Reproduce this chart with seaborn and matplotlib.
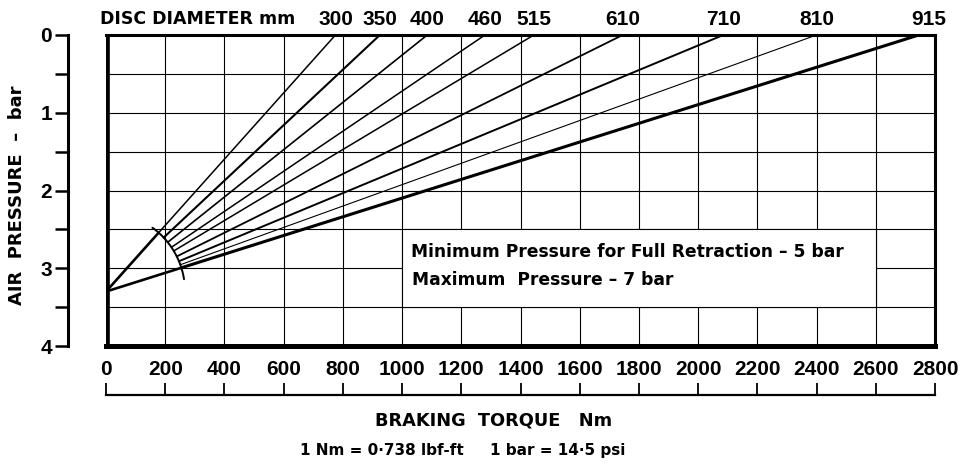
import numpy as np
import pandas as pd
import matplotlib.pyplot as plt
import seaborn as sns
from matplotlib.patches import Rectangle

# disc diameters (mm) and the braking torque where each line reaches 0 bar
disc_diameter = [300, 350, 400, 460, 515, 610, 710, 810, 915]
torque_at_zero = [775, 925, 1085, 1280, 1445, 1745, 2085, 2400, 2745]
line_width = [1.1, 1.5, 1.2, 1.1, 1.1, 1.3, 1.4, 0.8, 2.2]

# all lines converge on the pressure axis here (bar)
threshold_pressure = 3.3

x_ticks = [0, 200, 400, 600, 800, 1000, 1200, 1400, 1600, 1800, 2000, 2200, 2400, 2600, 2800]
y_ticks = [0, 0.5, 1, 1.5, 2, 2.5, 3, 3.5, 4]
y_labels = ["0", "", "1", "", "2", "", "3", "", "4"]

note_torque = [1000, 2600]
note_pressure = [2.5, 3.5]
notes = ["Minimum Pressure for Full Retraction \u2013 5 bar",
         "Maximum  Pressure \u2013 7 bar"]

sns.set_style("ticks", {"axes.edgecolor": "black", "xtick.color": "black",
                        "ytick.color": "black", "text.color": "black"})
plt.rcParams["font.family"] = ["DejaVu Sans"]
plt.rcParams["font.weight"] = "bold"

fig = plt.figure(figsize=(9.62, 4.66), dpi=100)
ax = fig.add_axes([106 / 962, 1 - 346 / 466, (935 - 106) / 962, (346 - 35) / 466])
ax.set_xlim(0, 2800)
ax.set_ylim(4, 0)
ax.set_xticks(x_ticks)
ax.set_yticks(y_ticks, labels=y_labels)
ax.set_axisbelow(True)
ax.grid(True, color="black", lw=0.8)

# frame
ax.spines["top"].set_linewidth(2.2)
ax.spines["right"].set_linewidth(2.2)
ax.spines["bottom"].set_linewidth(3.6)
ax.axvline(0, color="black", lw=5.5, zorder=3)
ax.spines["left"].set_position(("outward", 27.4))
ax.spines["left"].set_linewidth(2.2)

ax.tick_params(axis="x", length=0, pad=10, labelsize=15)
ax.tick_params(axis="y", length=9.4, width=1.8, direction="out", pad=2, labelsize=15, left=True)
for t in ax.get_xticklabels() + ax.get_yticklabels():
    t.set_fontfamily("Liberation Sans")
    t.set_fontweight("bold")

# ruler under the tick labels
sec = ax.secondary_xaxis(-(395 - 346) / 311)
sec.set_xticks(x_ticks)
sec.tick_params(axis="x", direction="in", length=9, width=1.3, labelbottom=False, bottom=True)
sec.spines["bottom"].set_linewidth(1.6)

# fan of lines: they start on an arc around the convergence point
p0 = ax.transData.transform((0, threshold_pressure))
radius = 79
rows = []
for d, t in zip(disc_diameter, torque_at_zero):
    pt = ax.transData.transform((t, 0))
    u = (pt - p0) / np.hypot(*(pt - p0))
    start = ax.transData.inverted().transform(p0 + radius * u)
    rows.append({"diameter": d, "torque": start[0], "pressure": start[1]})
    rows.append({"diameter": d, "torque": t, "pressure": 0.0})
lines = pd.DataFrame(rows)

sns.lineplot(data=lines, x="torque", y="pressure", hue="diameter", size="diameter",
             palette={d: "black" for d in disc_diameter},
             sizes=dict(zip(disc_diameter, line_width)),
             units="diameter", estimator=None, sort=False, legend=False, ax=ax, zorder=2)

# edge lines run on into the convergence point
edge = lines[lines["diameter"].isin([disc_diameter[0], disc_diameter[-1]])]
edge = edge[edge["pressure"] > 0]
edge_rows = []
for d, g in edge.groupby("diameter"):
    edge_rows.append({"diameter": d, "torque": 0.0, "pressure": threshold_pressure})
    edge_rows.append({"diameter": d, "torque": g["torque"].iloc[0], "pressure": g["pressure"].iloc[0]})
sns.lineplot(data=pd.DataFrame(edge_rows), x="torque", y="pressure", units="diameter",
             estimator=None, sort=False, color="black", lw=1.9, ax=ax, zorder=2)

# the arc
ang = np.radians(np.linspace(9, 54, 60))
arc_disp = np.column_stack([p0[0] + radius * np.cos(ang), p0[1] + radius * np.sin(ang)])
arc = ax.transData.inverted().transform(arc_disp)
ax.plot(arc[:, 0], arc[:, 1], color="black", lw=1.4, zorder=2)

ax.set_xlabel("")
ax.set_ylabel("")

# note box
ax.add_patch(Rectangle((note_torque[0], note_pressure[0]), note_torque[1] - note_torque[0],
                       note_pressure[1] - note_pressure[0], facecolor="white",
                       edgecolor="black", lw=0.8, zorder=1.5))
ax.text(1030, 2.79, notes[0], va="center", ha="left", fontsize=12.3, fontweight="bold", zorder=3)
ax.text(1035, 3.15, notes[1], va="center", ha="left", fontsize=12.3, fontweight="bold", zorder=3)

# disc diameter labels on top (the last one sits past the frame corner)
for i, (d, t) in enumerate(zip(disc_diameter, torque_at_zero)):
    shift = 7 if i == len(disc_diameter) - 1 else 0
    ax.annotate(str(d), xy=(t, 0), xytext=(shift, 4), textcoords="offset points",
                ha="center", va="bottom", fontsize=15, fontweight="bold",
                fontfamily="Liberation Sans", annotation_clip=False)
ax.annotate("DISC DIAMETER mm", xy=(0, 0), xytext=(-4.5, 5), textcoords="offset points",
            ha="left", va="bottom", fontsize=12.5, fontweight="bold", annotation_clip=False)

fig.text(17 / 962, 1 - 195 / 466, "AIR  PRESSURE  \u2013  bar", rotation=90,
         ha="center", va="center", fontsize=13, fontweight="bold")
fig.text(494 / 962, 1 - 421 / 466, "BRAKING  TORQUE   Nm", ha="center", va="center",
         fontsize=12.8, fontweight="bold")
fig.text(463 / 962, 1 - 450 / 466, "1 Nm = 0\u00b7738 lbf-ft     1 bar = 14\u00b75 psi",
         ha="center", va="center", fontsize=11, fontweight="bold")

fig.savefig("out.png", dpi=100)
